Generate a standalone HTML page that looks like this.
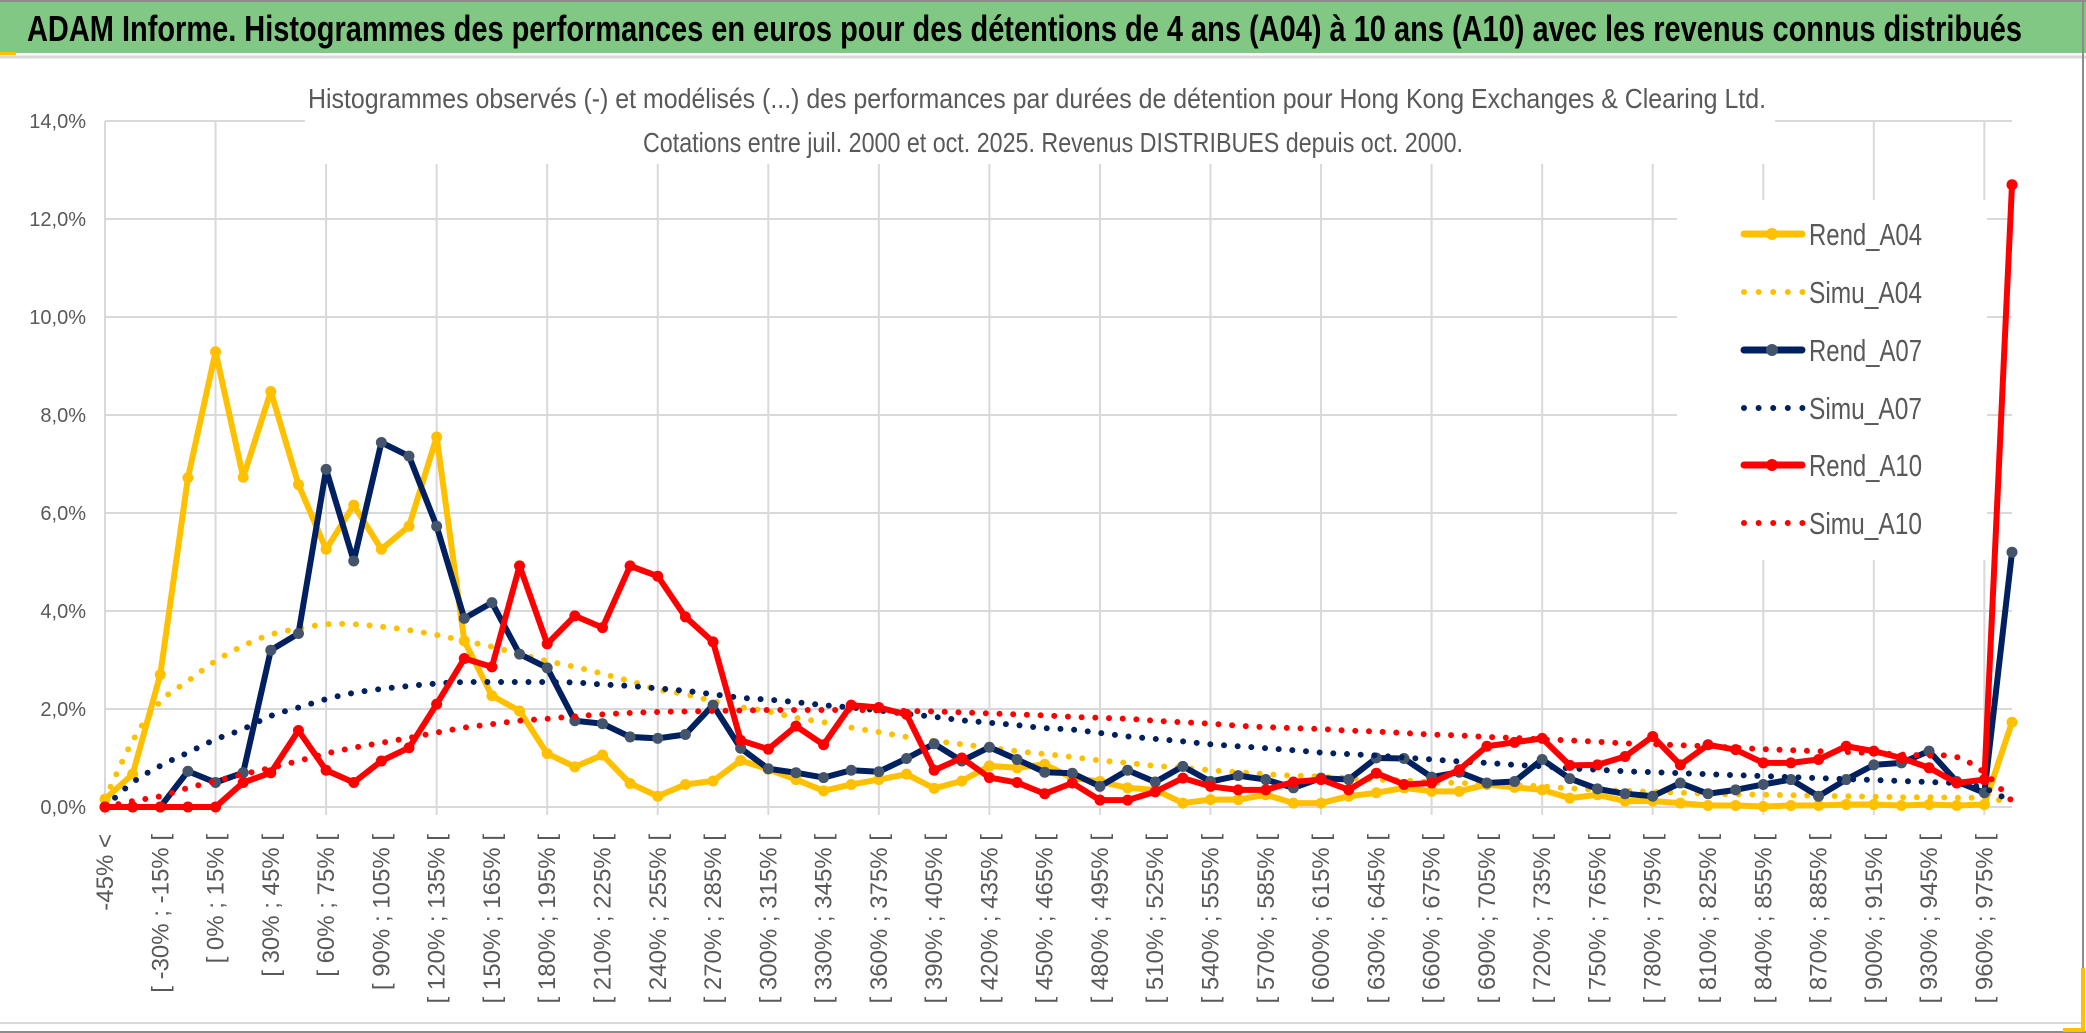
<!DOCTYPE html>
<html><head><meta charset="utf-8"><style>
html,body{margin:0;padding:0;background:#fff;}
svg{display:block;}
text{font-family:"Liberation Sans",sans-serif;}
</style></head><body>
<svg id="chart" width="2086" height="1033" viewBox="0 0 2086 1033" xmlns="http://www.w3.org/2000/svg">
  <rect x="0" y="0" width="2086" height="1033" fill="#ffffff"/>
  <rect x="0" y="1" width="2086" height="52" fill="#80c883"/>
  <line x1="0" y1="1" x2="2086" y2="1" stroke="#8c8c8c" stroke-width="2"/>
  <rect x="0" y="52" width="16" height="3" fill="#ffc000"/>
  <line x1="0" y1="57" x2="2086" y2="57" stroke="#d9d9d9" stroke-width="3"/>
  <text x="27" y="41" font-size="36" font-weight="bold" fill="#000" textLength="1995" lengthAdjust="spacingAndGlyphs">ADAM Informe. Histogrammes des performances en euros pour des détentions de 4 ans (A04) à 10 ans (A10) avec les revenus connus distribués</text>
  <line x1="0" y1="1023" x2="2083" y2="1023" stroke="#d9d9d9" stroke-width="2"/>
  <line x1="2083" y1="0" x2="2083" y2="1032" stroke="#8c8c8c" stroke-width="2"/>
  <line x1="0" y1="1032" x2="2086" y2="1032" stroke="#8c8c8c" stroke-width="2"/>
  <path d="M2063 1030 H2083 V968" fill="none" stroke="#ffc000" stroke-width="4"/>
  <g id="grid"></g>
  <rect x="305" y="60" width="1470" height="104" fill="#fff"/>
  <rect x="1677" y="200" width="310" height="360" fill="#fff"/>
  <g id="series"></g>
  <g id="axes"></g>
  <text x="1037" y="108" font-size="28" fill="#595959" text-anchor="middle" textLength="1458" lengthAdjust="spacingAndGlyphs">Histogrammes observés (-) et modélisés (...) des performances par durées de détention pour Hong Kong Exchanges &amp; Clearing Ltd.</text>
  <text x="1053" y="152" font-size="28" fill="#595959" text-anchor="middle" textLength="820" lengthAdjust="spacingAndGlyphs">Cotations entre juil. 2000 et oct. 2025. Revenus DISTRIBUES depuis oct. 2000.</text>
  <g id="legend"></g>
</svg>
<script>
const seriesNames = ["Rend_A04","Simu_A04","Rend_A07","Simu_A07","Rend_A10","Simu_A10"];
const yTicks = [0,2,4,6,8,10,12,14];
const yTickLabels = ["0,0%","2,0%","4,0%","6,0%","8,0%","10,0%","12,0%","14,0%"];
const categories = ["-45% <"];
for (let i = 1; i < 70; i++) { const a = -45 + 15 * (i - 1); categories.push("[ " + a + "% ; " + (a + 15) + "% ["); }
const rendA04 = [0.16,0.67,2.7,6.72,9.29,6.73,8.48,6.58,5.26,6.16,5.26,5.73,7.55,3.39,2.27,1.96,1.09,0.82,1.06,0.48,0.22,0.46,0.53,0.95,0.77,0.56,0.33,0.46,0.56,0.67,0.38,0.53,0.84,0.8,0.87,0.59,0.52,0.39,0.35,0.08,0.15,0.15,0.25,0.08,0.08,0.22,0.29,0.39,0.32,0.32,0.46,0.4,0.35,0.18,0.25,0.12,0.12,0.08,0.03,0.03,0.01,0.03,0.03,0.05,0.05,0.03,0.05,0.03,0.05,1.73];
const simuA04 = [0.16,1.35,2.15,2.57,2.98,3.29,3.52,3.64,3.73,3.73,3.68,3.61,3.51,3.39,3.27,3.12,2.98,2.86,2.72,2.57,2.4,2.3,2.16,2.04,1.95,1.82,1.73,1.62,1.53,1.43,1.35,1.28,1.21,1.14,1.08,1.02,0.95,0.9,0.84,0.8,0.75,0.71,0.67,0.64,0.62,0.59,0.56,0.54,0.51,0.49,0.47,0.45,0.42,0.38,0.35,0.33,0.31,0.29,0.27,0.26,0.25,0.24,0.23,0.22,0.21,0.2,0.2,0.19,0.18,0.1];
const rendA07 = [0,0,0,0.73,0.5,0.7,3.2,3.54,6.89,5.02,7.44,7.16,5.73,3.85,4.17,3.12,2.84,1.76,1.7,1.43,1.4,1.48,2.08,1.2,0.78,0.7,0.6,0.75,0.72,0.99,1.29,0.94,1.22,0.97,0.71,0.69,0.42,0.75,0.51,0.83,0.52,0.64,0.56,0.39,0.59,0.56,1.0,0.99,0.61,0.71,0.49,0.52,0.97,0.58,0.37,0.27,0.22,0.49,0.27,0.35,0.46,0.56,0.22,0.56,0.86,0.9,1.14,0.52,0.29,5.2];
const simuA07 = [0,0.5,0.84,1.11,1.38,1.59,1.86,2.03,2.2,2.33,2.41,2.47,2.52,2.55,2.55,2.55,2.55,2.54,2.5,2.47,2.42,2.37,2.3,2.23,2.19,2.14,2.08,2.03,1.97,1.9,1.84,1.77,1.72,1.67,1.61,1.58,1.51,1.44,1.39,1.34,1.28,1.24,1.2,1.16,1.11,1.08,1.05,1.01,0.97,0.93,0.9,0.86,0.83,0.79,0.76,0.73,0.71,0.69,0.67,0.65,0.63,0.61,0.59,0.57,0.55,0.53,0.51,0.48,0.38,0.1];
const rendA10 = [0,0,0,0,0,0.5,0.7,1.56,0.75,0.5,0.94,1.21,2.1,3.03,2.86,4.92,3.33,3.9,3.66,4.92,4.71,3.88,3.37,1.36,1.18,1.65,1.27,2.08,2.03,1.89,0.75,1.0,0.6,0.5,0.27,0.49,0.14,0.14,0.31,0.59,0.42,0.35,0.35,0.51,0.56,0.35,0.69,0.46,0.49,0.76,1.24,1.32,1.4,0.85,0.86,1.03,1.44,0.86,1.27,1.17,0.9,0.9,0.97,1.24,1.14,1.0,0.8,0.49,0.56,12.7];
const simuA10 = [0,0.12,0.22,0.39,0.53,0.67,0.8,0.94,1.09,1.21,1.31,1.41,1.52,1.62,1.69,1.76,1.8,1.85,1.89,1.92,1.94,1.95,1.96,1.97,1.98,1.98,1.98,1.98,1.97,1.96,1.95,1.93,1.91,1.89,1.87,1.84,1.82,1.8,1.76,1.73,1.7,1.66,1.63,1.61,1.59,1.56,1.54,1.51,1.48,1.46,1.43,1.41,1.38,1.36,1.33,1.3,1.28,1.26,1.24,1.21,1.18,1.16,1.14,1.12,1.1,1.07,1.05,1.02,0.7,0.12];

const NS = "http://www.w3.org/2000/svg";
const X0 = 105, X1 = 2012, Y0 = 807, Y14 = 121;
function xPos(i){ return X0 + (X1 - X0) * i / (categories.length - 1); }
function yPos(v){ return Y0 - (Y0 - Y14) * v / 14; }
function mk(tag, attrs, parent){ const e = document.createElementNS(NS, tag); for (const k in attrs) e.setAttribute(k, attrs[k]); parent.appendChild(e); return e; }

const grid = document.getElementById("grid");
const axes = document.getElementById("axes");
yTicks.forEach((t, k) => {
  const l = mk("line", {x1: X0, x2: X1, y1: yPos(t), y2: yPos(t), stroke: "#d9d9d9", "stroke-width": 2}, grid);
  
  
  const tx = mk("text", {x: 86, y: yPos(t) + 7, "font-size": 20, fill: "#595959", "text-anchor": "end"}, axes);
  tx.textContent = yTickLabels[k];
  
  
});
for (let i = 0; i < categories.length; i += 4) {
  const l = mk("line", {x1: xPos(i), x2: xPos(i), y1: Y14, y2: Y0 + 8, stroke: "#d9d9d9", "stroke-width": 2}, grid);
  
  
}
for (let i = 0; i < categories.length; i += 2) {
  const x = xPos(i) + 8, y = 834;
  const tx = mk("text", {x: x, y: y, "font-size": 24, fill: "#595959", "text-anchor": "end", transform: "rotate(-90 " + x + " " + y + ")"}, axes);
  tx.textContent = categories[i];
  
  
}

function smoothPath(vals){
  const p = vals.map((v, i) => [xPos(i), yPos(v)]);
  let d = "M" + p[0][0] + " " + p[0][1];
  for (let i = 0; i < p.length - 1; i++) {
    const a = p[Math.max(0, i - 1)], b = p[i], c = p[i + 1], e = p[Math.min(p.length - 1, i + 2)];
    const c1 = [b[0] + (c[0] - a[0]) / 6, b[1] + (c[1] - a[1]) / 6];
    const c2 = [c[0] - (e[0] - b[0]) / 6, c[1] - (e[1] - b[1]) / 6];
    d += " C" + c1[0] + " " + c1[1] + " " + c2[0] + " " + c2[1] + " " + c[0] + " " + c[1];
  }
  return d;
}
const series = document.getElementById("series");
const cfg = [
  {vals: rendA04, color: "#ffc000", marker: "#ffc000", dotted: false, name: "series-rend-a04"},
  {vals: simuA04, color: "#ffc000", dotted: true, name: "series-simu-a04"},
  {vals: rendA07, color: "#002060", marker: "#44546a", dotted: false, name: "series-rend-a07"},
  {vals: simuA07, color: "#002060", dotted: true, name: "series-simu-a07"},
  {vals: rendA10, color: "#ff0000", marker: "#ff0000", dotted: false, name: "series-rend-a10"},
  {vals: simuA10, color: "#ff0000", dotted: true, name: "series-simu-a10"}
];
cfg.forEach(s => {
  const g = mk("g", {}, series);
  
  
  if (s.dotted) {
    const p = mk("path", {d: smoothPath(s.vals), fill: "none", stroke: s.color, "stroke-width": 6, "stroke-linecap": "round", "stroke-dasharray": "0 13.7"}, g);
    
    
  } else {
    const pts = s.vals.map((v, i) => xPos(i) + "," + yPos(v)).join(" ");
    const pl = mk("polyline", {points: pts, fill: "none", stroke: s.color, "stroke-width": 6, "stroke-linejoin": "round"}, g);
    
    
    s.vals.forEach((v, i) => {
      const c = mk("circle", {cx: xPos(i), cy: yPos(v), r: 5.5, fill: s.marker}, g);
      
      
    });
  }
});

const legend = document.getElementById("legend");
const legY = [234, 292, 350, 408, 465, 523];
cfg.forEach((s, k) => {
  const g = mk("g", {}, legend);
  
  
  const y = legY[k];
  if (s.dotted) {
    mk("line", {x1: 1744, x2: 1803, y1: y, y2: y, stroke: s.color, "stroke-width": 6, "stroke-linecap": "round", "stroke-dasharray": "0 14.6"}, g);
  } else {
    mk("line", {x1: 1744, x2: 1802, y1: y, y2: y, stroke: s.color, "stroke-width": 7, "stroke-linecap": "round"}, g);
    mk("circle", {cx: 1772, cy: y, r: 6, fill: s.marker}, g);
  }
  const t = mk("text", {x: 1809, y: y + 11, "font-size": 31, fill: "#595959", textLength: 113, lengthAdjust: "spacingAndGlyphs"}, g);
  t.textContent = seriesNames[k];
});
</script>
</body></html>
